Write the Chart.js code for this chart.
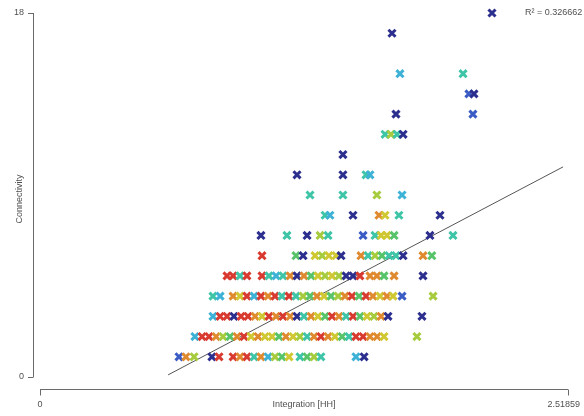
<!DOCTYPE html>
<html>
<head>
    <title>Connectivity vs Integration</title>
    <script src="https://cdn.jsdelivr.net/npm/chart.js"></script>
    <style>
        body { margin: 0; background: #fff; }
    </style>
</head>
<body>
    <canvas id="scatterChart" width="584" height="416"></canvas>

    <script>
        // connectivity level of each row of points
        var connectivityLevels = [1, 2, 3, 4, 5, 6, 7, 8, 9, 10, 11, 12, 13, 14, 15, 17, 18];

        // integration [HH] values of the points on each row
        var integrationByLevel = [
            [0.663, 0.696, 0.735, 0.820, 0.854, 0.921, 0.954, 0.987, 1.021, 1.054, 1.088, 1.121, 1.154, 1.188, 1.240, 1.274, 1.307, 1.340, 1.507, 1.546],
            [0.739, 0.773, 0.806, 0.840, 0.873, 0.906, 0.940, 0.973, 1.007, 1.040, 1.073, 1.107, 1.140, 1.173, 1.207, 1.240, 1.274, 1.307, 1.340, 1.374, 1.407, 1.441, 1.474, 1.507, 1.541, 1.574, 1.608, 1.641, 1.798],
            [0.825, 0.859, 0.892, 0.925, 0.959, 0.992, 1.026, 1.059, 1.092, 1.126, 1.159, 1.193, 1.226, 1.259, 1.293, 1.326, 1.360, 1.393, 1.426, 1.460, 1.493, 1.526, 1.560, 1.593, 1.627, 1.660, 1.822],
            [0.825, 0.859, 0.921, 0.954, 0.987, 1.021, 1.054, 1.088, 1.121, 1.154, 1.188, 1.221, 1.255, 1.288, 1.321, 1.355, 1.388, 1.422, 1.455, 1.488, 1.522, 1.555, 1.588, 1.622, 1.655, 1.684, 1.727, 1.875],
            [0.892, 0.921, 0.954, 0.987, 1.059, 1.092, 1.126, 1.159, 1.193, 1.226, 1.259, 1.293, 1.326, 1.360, 1.393, 1.426, 1.460, 1.493, 1.526, 1.574, 1.607, 1.641, 1.689, 1.827],
            [1.059, 1.221, 1.255, 1.312, 1.346, 1.378, 1.412, 1.436, 1.531, 1.565, 1.598, 1.631, 1.665, 1.698, 1.732, 1.827, 1.869],
            [1.054, 1.178, 1.274, 1.336, 1.374, 1.541, 1.598, 1.627, 1.655, 1.689, 1.860, 1.970],
            [1.360, 1.383, 1.493, 1.617, 1.646, 1.712, 1.908],
            [1.288, 1.445, 1.607, 1.727],
            [1.226, 1.445, 1.555, 1.574],
            [1.445],
            [1.646, 1.674, 1.703, 1.732],
            [1.698, 2.065],
            [2.046, 2.070],
            [1.717, 2.018],
            [1.679],
            [2.156]
        ];

        // colour class of each point, one letter per point (r o y l g t c b n)
        var colourByLevel = [
            'bolnrrortoclgytgltcn',
            'crrolgoryoyygoyltoroygtrrooyl',
            'crrnrroyrorontoygrotrgylo',
            'tcoyrcrortrtlgoyglorgroyoybl',
            'rrtrrtctonogylylnnroogo',
            'rgnylyynotlgttnog',
            'ntnltbtyygnt',
            'tcnoytn',
            'ttlc',
            'nntc',
            'n',
            'tltn',
            'nb',
            'bn',
            'ct',
            'n',
            'n'
        ];

        var palette = {
            r: '#d83a30', o: '#e08a30', y: '#cfc832', l: '#a6cc3e', g: '#58c46a',
            t: '#3ec4a6', c: '#3eb2d6', b: '#3b5cc4', n: '#2c2f8e'
        };

        var xTicks = [0, 2.51859];
        var yTicks = [0, 18];
        var xTitle = 'Integration [HH]';
        var yTitle = 'Connectivity';

        // fitted line: connectivity = intercept + slope * integration
        var regressionIntercept = -3.23;
        var regressionSlope = 5.459;
        var regressionRange = [0.611, 2.495];
        var rSquared = 0.326662;

        var points = [];
        var pointColours = [];
        connectivityLevels.forEach(function(level, i) {
            integrationByLevel[i].forEach(function(x, j) {
                points.push({ x: x, y: level });
                pointColours.push(palette[colourByLevel[i][j]] || palette.n);
            });
        });

        var linePoints = regressionRange.map(function(x) {
            return { x: x, y: regressionIntercept + regressionSlope * x };
        });

        var axesPlugin = {
            id: 'rAxes',
            afterDraw: function(chart) {
                var ctx = chart.ctx;
                var xs = chart.scales.x, ys = chart.scales.y;
                var left = chart.chartArea.left, bottom = chart.chartArea.bottom;
                ctx.save();
                ctx.strokeStyle = '#6a6a6a';
                ctx.lineWidth = 1;
                ctx.fillStyle = '#505050';
                ctx.font = '9px "Liberation Sans", Arial, sans-serif';

                // y axis
                var yTop = ys.getPixelForValue(yTicks[yTicks.length - 1]);
                var yBot = ys.getPixelForValue(yTicks[0]);
                ctx.beginPath();
                ctx.moveTo(left + 0.5, yTop);
                ctx.lineTo(left + 0.5, yBot);
                yTicks.forEach(function(v) {
                    var p = Math.round(ys.getPixelForValue(v)) + 0.5;
                    ctx.moveTo(left - 5, p);
                    ctx.lineTo(left + 0.5, p);
                });
                ctx.stroke();
                ctx.textAlign = 'right';
                ctx.textBaseline = 'middle';
                yTicks.forEach(function(v) {
                    ctx.fillText(String(v), left - 9, ys.getPixelForValue(v));
                });

                // x axis
                var xL = xs.getPixelForValue(xTicks[0]);
                var xR = xs.getPixelForValue(xTicks[xTicks.length - 1]);
                var ax = bottom + 0.5;
                ctx.beginPath();
                ctx.moveTo(xL, ax);
                ctx.lineTo(xR, ax);
                xTicks.forEach(function(v) {
                    var p = Math.round(xs.getPixelForValue(v)) + 0.5;
                    ctx.moveTo(p, ax);
                    ctx.lineTo(p, ax + 6);
                });
                ctx.stroke();
                ctx.textAlign = 'center';
                ctx.textBaseline = 'middle';
                xTicks.forEach(function(v) {
                    var label = String(v);
                    var half = ctx.measureText(label).width / 2;
                    // keep the last label inside the canvas, as R does
                    var px = Math.min(xs.getPixelForValue(v), chart.width - 4 - half);
                    ctx.fillText(label, px, 405);
                });
                ctx.fillText(xTitle, (xL + xR) / 2, 405);

                // y title
                ctx.save();
                ctx.translate(20, (yTop + yBot) / 2 + 4);
                ctx.rotate(-Math.PI / 2);
                ctx.fillText(yTitle, 0, 0);
                ctx.restore();

                // R squared
                ctx.textAlign = 'left';
                ctx.fillText('R\u00b2 = ' + rSquared, 525, 13);
                ctx.restore();
            }
        };

        var ctx = document.getElementById('scatterChart').getContext('2d');
        window.myChart = new Chart(ctx, {
            type: 'scatter',
            data: {
                datasets: [{
                    label: 'Points',
                    data: points,
                    pointStyle: 'crossRot',
                    pointRadius: 5,
                    pointBorderWidth: 3,
                    pointBorderColor: pointColours,
                    pointBackgroundColor: pointColours,
                    clip: false
                }, {
                    label: 'Fit',
                    type: 'line',
                    data: linePoints,
                    borderColor: '#555555',
                    borderWidth: 1,
                    pointRadius: 0,
                    fill: false,
                    clip: false
                }]
            },
            options: {
                responsive: false,
                animation: false,
                layout: { padding: { left: 33, right: 16, top: 13, bottom: 27 } },
                plugins: { legend: { display: false }, tooltip: { enabled: false } },
                scales: {
                    x: { type: 'linear', display: false, min: -0.03339, max: 2.51859 },
                    y: { type: 'linear', display: false, min: -0.593, max: 18 }
                }
            },
            plugins: [axesPlugin]
        });
    </script>
</body>
</html>
